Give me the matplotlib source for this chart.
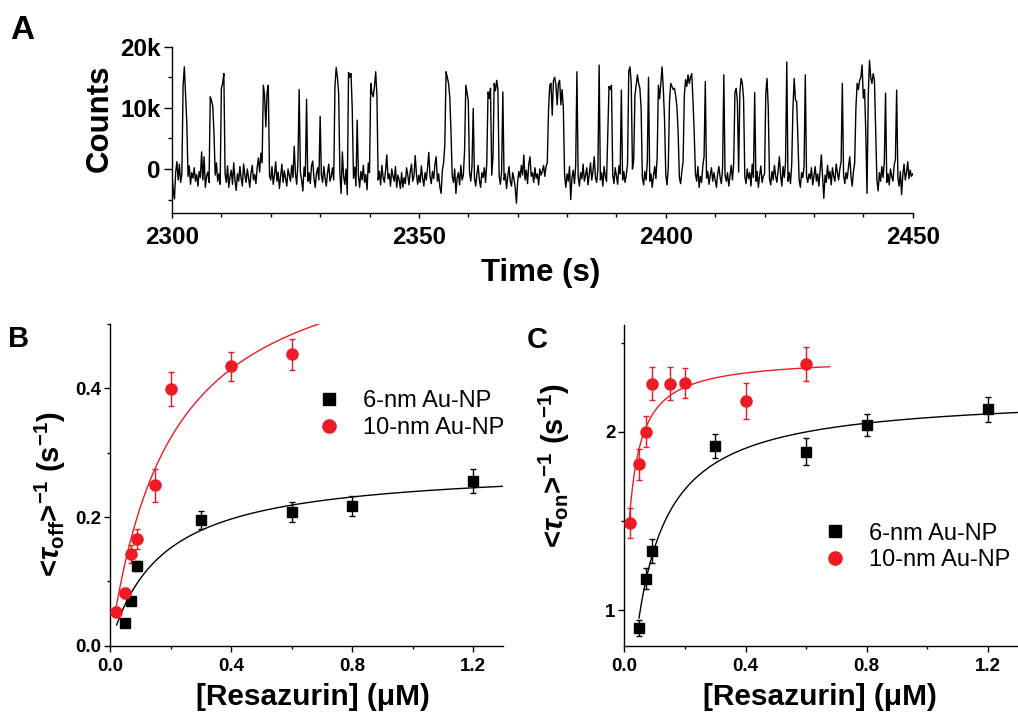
import numpy as np
import matplotlib
matplotlib.use('Agg')
import matplotlib.pyplot as plt
from matplotlib.ticker import MultipleLocator, FuncFormatter
from matplotlib.lines import Line2D

plt.rcParams['font.family'] = 'Liberation Sans'
plt.rcParams['font.weight'] = 'bold'
plt.rcParams['axes.labelweight'] = 'bold'
plt.rcParams['mathtext.fontset'] = 'custom'
plt.rcParams['mathtext.rm'] = 'Liberation Sans:bold'
plt.rcParams['mathtext.it'] = 'Liberation Sans:bold:italic'
plt.rcParams['mathtext.bf'] = 'Liberation Sans:bold'
plt.rcParams['axes.linewidth'] = 1.0

# Panel A: fluorescence trace, counts in hundreds, one sample every 0.25 s from 2300 s
t_start = 2300.0
t_step = 0.25
counts_hundreds = [
    -10, -35, -49, -5, 12, -18, 8, -22, -8, 137, 167, 120, 75, -12, 5, -25, -6, -15, 2, -20,
    -9, -28, -4, -14, 28, -18, 20, -30, -12, -5, -22, 118, 112, 103, 60, -10, 10, -20, -8, -25,
    132, 140, 156, -8, -22, 5, -30, -12, -2, -25, 10, -18, -35, -8, -20, 4, -15, -28, 8, -10,
    -22, 0, -14, -30, -6, 6, -18, -9, -24, 2, 18, -5, 26, 10, 137, 120, 69, 125, 137, -12,
    -18, 4, -25, -10, 12, -20, -5, -32, -12, 8, -22, -3, -16, -28, 0, -10, -20, 6, -14, 37,
    -8, -25, 10, 130, -5, -18, -36, 3, -12, 114, -20, -6, -24, 5, 13, -15, -30, -8, 2, -18,
    86, -10, -22, 4, -15, -28, -6, 8, -20, -12, 2, -18, 135, 166, 150, 124, -8, -40, 28, -12,
    -25, 0, -42, 158, 150, 156, 99, -15, 3, -28, 80, -10, -30, -4, -18, 6, -22, -9, -34, 10,
    -6, 140, 124, 118, 135, 159, 120, -18, -4, -26, 6, -14, -22, -2, 23, -16, -8, -28, 0, -12,
    -20, 4, -30, -10, -18, -32, -6, -30, -14, -24, 2, -10, -26, -4, 8, -20, -12, 22, -8, -25,
    -10, -22, 5, -15, -28, -6, -18, 2, 27, -12, -24, -4, -16, 8, 20, -20, -8, -30, -40, -2,
    10, 40, 159, 150, 140, 118, 60, -12, -22, 0, -40, -14, -6, -26, 6, -18, -10, 30, 137, 125,
    112, -5, -20, 4, 99, -15, -28, -8, 6, -18, -30, -6, -14, 2, -22, 10, 126, 115, 132, -10,
    20, 140, 128, 145, 130, -12, -25, -4, 126, -18, -8, -32, -12, 4, -20, -28, -6, -16, -30, -56,
    -20, -4, -14, 6, -10, 23, -18, -2, -24, 8, 20, -12, -6, -22, 2, -15, -8, -26, 0, -10,
    -4, 6, -12, 4, 10, 96, 137, 140, 88, 145, 150, 137, 105, 140, 145, 105, 130, 100, -10, -30,
    -8, -20, 4, -50, -14, -2, -24, 6, 159, -12, -28, -6, -16, 8, -20, -10, 2, -26, -8, 10,
    -18, -4, 20, -14, -22, 0, 170, -18, -6, -28, 4, -12, -20, 60, 135, 130, 137, -10, -24, 2,
    -12, -25, 5, -8, 129, -18, -4, -22, -10, 8, 160, 167, 140, 0, 15, 120, 137, 154, 140, 132,
    100, -14, -26, -4, -18, 10, 150, -20, -8, -30, -12, 4, -16, 20, 137, 115, 140, 167, 130, 80,
    -10, -26, 2, 110, 140, 135, 130, 132, 120, 102, 60, -14, -24, -4, 12, 120, 146, 135, 154, 140,
    150, 156, 113, 60, -8, -20, 4, -30, -12, -22, 6, 20, 143, -15, -4, -25, -10, 2, -20, -6,
    -18, -30, -8, 4, -14, -24, 2, 154, -10, -20, -6, -28, -12, 6, -18, 10, 125, 132, 110, -5,
    125, 148, 140, 115, -12, -24, 0, -16, -6, -28, 8, -14, 125, -20, -4, -30, -10, 5, -22, -12,
    -8, 124, 148, 100, -16, -26, -4, -18, 6, -12, -22, -2, 20, -10, -28, 4, -14, 10, 175, -20,
    -6, -24, 8, 100, 148, 113, 110, 50, -18, -30, -6, -14, 4, 154, -12, -22, -8, -16, 2, -26,
    -12, 4, -20, -8, -28, -2, 23, -14, -48, -10, -22, 6, -16, -4, -26, 2, -12, -20, 8, -6,
    -18, 0, 12, 140, -10, -24, -6, -16, 4, 20, -12, -28, -4, 10, 100, 140, 130, 145, 150, 170,
    116, 130, 60, -40, 120, 178, 150, 140, 156, 145, 60, -18, -36, -6, -20, 4, -14, 10, 124, -22,
    -8, -26, 0, -12, -20, 6, 16, 129, -14, -28, -4, -42, -10, 8, -18, -6, 12, -16, -2, -12,
    -8,
]

# Panels B and C: rates vs resazurin concentration
conc_6nm = [0.05, 0.07, 0.09, 0.3, 0.6, 0.8, 1.2]
conc_10nm = [0.02, 0.05, 0.07, 0.09, 0.15, 0.2, 0.4, 0.6]

off_6nm = [0.035, 0.069, 0.124, 0.195, 0.208, 0.217, 0.256]
off_6nm_err = [0.005, 0.005, 0.008, 0.014, 0.015, 0.016, 0.019]
off_10nm = [0.053, 0.082, 0.143, 0.166, 0.249, 0.399, 0.434, 0.453]
off_10nm_err = [0.007, 0.008, 0.014, 0.016, 0.025, 0.027, 0.023, 0.024]

on_6nm = [0.90, 1.176, 1.333, 1.921, 1.888, 2.039, 2.126]
on_6nm_err = [0.044, 0.059, 0.067, 0.065, 0.075, 0.063, 0.069]
on_10nm = [1.49, 1.819, 2.002, 2.27, 2.27, 2.275, 2.174, 2.381]
on_10nm_err = [0.083, 0.087, 0.088, 0.092, 0.092, 0.084, 0.10, 0.094]

# fitted saturation curves: y = y0 + (ymax - y0) * x / (K + x)
fit_off_6nm = dict(y0=0.0, ymax=0.28, K=0.169, xmin=0.022, xmax=1.3)
fit_off_10nm = dict(y0=0.0, ymax=0.645, K=0.2, xmin=0.02, xmax=0.75)
fit_on_6nm = dict(y0=0.0, ymax=2.2125, K=0.0638, xmin=0.0485, xmax=1.3)
fit_on_10nm = dict(y0=0.9, ymax=2.42, K=0.025, xmin=0.0165, xmax=0.678)

RED = '#ED1C24'
W, H = 1018, 713


def fit_curve(p):
    x = np.linspace(p['xmin'], p['xmax'], 300)
    return x, p['y0'] + (p['ymax'] - p['y0']) * x / (p['K'] + x)


def style_axes(ax):
    for s in ['top', 'right']:
        ax.spines[s].set_visible(False)
    ax.tick_params(which='major', direction='out', length=4.5, width=1.0, labelsize=13.5)
    ax.tick_params(which='minor', direction='out', length=2.5, width=1.0)
    ax.tick_params(axis='x', pad=4.5)
    ax.tick_params(axis='y', pad=2)


fig = plt.figure(figsize=(W / 100, H / 100), dpi=100)

# ---- A ----
axA = fig.add_axes([172 / W, 1 - 212.7 / H, 740.7 / W, 166 / H])
time = t_start + t_step * np.arange(len(counts_hundreds))
axA.plot(time, np.array(counts_hundreds) * 100, color='k', lw=1.0)
axA.set_xlim(2300, 2450)
axA.set_ylim(-7150, 20000)
style_axes(axA)
axA.xaxis.set_major_locator(MultipleLocator(50))
axA.xaxis.set_minor_locator(MultipleLocator(10))
axA.yaxis.set_major_locator(MultipleLocator(10000))
axA.yaxis.set_minor_locator(MultipleLocator(5000))
axA.yaxis.set_major_formatter(FuncFormatter(lambda v, p: '0' if v == 0 else '%dk' % (v / 1000)))
axA.tick_params(which='major', labelsize=17.5)
axA.tick_params(axis='x', which='major', length=3.5, pad=6)
axA.tick_params(axis='x', which='minor', length=3)
axA.tick_params(axis='y', which='major', length=6, pad=2)
axA.tick_params(axis='y', which='minor', length=3)
axA.set_xlabel('Time (s)', fontsize=22.5)
axA.xaxis.set_label_coords(0.497, -0.27)
axA.xaxis.label.set_va('top')
axA.set_ylabel('Counts', fontsize=22.5)
axA.yaxis.set_label_coords(-0.077, 0.569)

# ---- B ----
axB = fig.add_axes([110 / W, 1 - 645.7 / H, 393.3 / W, 321.7 / H])
x, y = fit_curve(fit_off_6nm)
axB.plot(x, y, color='k', lw=1.0, zorder=2)
x, y = fit_curve(fit_off_10nm)
axB.plot(x, y, color=RED, lw=1.0, zorder=2)
axB.errorbar(conc_6nm, off_6nm, yerr=off_6nm_err, fmt='s', color='k', ms=7,
             capsize=2.5, elinewidth=1.0, capthick=1.0, zorder=3)
axB.errorbar(conc_10nm, off_10nm, yerr=off_10nm_err, fmt='o', color=RED, ms=8,
             capsize=2.5, elinewidth=1.0, capthick=1.0, zorder=3)
axB.set_xlim(0, 1.3)
axB.set_ylim(0, 0.5)
style_axes(axB)
axB.xaxis.set_major_locator(MultipleLocator(0.4))
axB.xaxis.set_minor_locator(MultipleLocator(0.2))
axB.yaxis.set_major_locator(MultipleLocator(0.2))
axB.yaxis.set_minor_locator(MultipleLocator(0.1))
axB.xaxis.set_major_formatter(FuncFormatter(lambda v, p: '%.1f' % v))
axB.yaxis.set_major_formatter(FuncFormatter(lambda v, p: '%.1f' % v))
axB.set_xlabel('[Resazurin] (\u03bcM)', fontsize=21.5)
axB.xaxis.set_label_coords(0.517, -0.116)
axB.xaxis.label.set_va('top')
axB.set_ylabel(r'<$\tau_{\rm off}$>$^{-1}$ (s$^{-1}$)', fontsize=21)
axB.yaxis.set_label_coords(-0.107, 0.4716)

# ---- C ----
axC = fig.add_axes([624.3 / W, 1 - 645.7 / H, 393.9 / W, 320.7 / H])
x, y = fit_curve(fit_on_6nm)
axC.plot(x, y, color='k', lw=1.0, zorder=2)
x, y = fit_curve(fit_on_10nm)
axC.plot(x, y, color=RED, lw=1.0, zorder=2)
axC.errorbar(conc_6nm, on_6nm, yerr=on_6nm_err, fmt='s', color='k', ms=7,
             capsize=2.5, elinewidth=1.0, capthick=1.0, zorder=3)
axC.errorbar(conc_10nm, on_10nm, yerr=on_10nm_err, fmt='o', color=RED, ms=8,
             capsize=2.5, elinewidth=1.0, capthick=1.0, zorder=3)
axC.set_xlim(0, 1.3)
axC.set_ylim(0.8, 2.6)
style_axes(axC)
axC.xaxis.set_major_locator(MultipleLocator(0.4))
axC.xaxis.set_minor_locator(MultipleLocator(0.2))
axC.yaxis.set_major_locator(MultipleLocator(1))
axC.yaxis.set_minor_locator(MultipleLocator(0.5))
axC.xaxis.set_major_formatter(FuncFormatter(lambda v, p: '%.1f' % v))
axC.yaxis.set_major_formatter(FuncFormatter(lambda v, p: '%d' % round(v)))
axC.set_xlabel('[Resazurin] (\u03bcM)', fontsize=21.5)
axC.xaxis.set_label_coords(0.497, -0.116)
axC.xaxis.label.set_va('top')
axC.set_ylabel(r'<$\tau_{\rm on}$>$^{-1}$ (s$^{-1}$)', fontsize=21)
axC.yaxis.set_label_coords(-0.1335, 0.562)

# legends
handles = [Line2D([], [], marker='s', ls='none', color='k', ms=8.5),
           Line2D([], [], marker='o', ls='none', color=RED, ms=9.5)]
labels = ['6-nm Au-NP', '10-nm Au-NP']
for ax, anchor in [(axB, (0.527, 0.7187)), (axC, (0.505, 0.308))]:
    ax.legend(handles, labels, loc='center left', bbox_to_anchor=anchor, frameon=False,
              prop={'size': 17, 'weight': 'normal'}, handlelength=1.0, handletextpad=0.95,
              borderaxespad=0, borderpad=0, labelspacing=0.2)

# panel letters
fig.text(10 / W, 1 - 39 / H, 'A', fontsize=24, va='baseline', ha='left')
fig.text(8 / W, 1 - 347.3 / H, 'B', fontsize=21, va='baseline', ha='left')
fig.text(526.5 / W, 1 - 348.3 / H, 'C', fontsize=21, va='baseline', ha='left')

fig.savefig('out.png', dpi=100, facecolor='white')
